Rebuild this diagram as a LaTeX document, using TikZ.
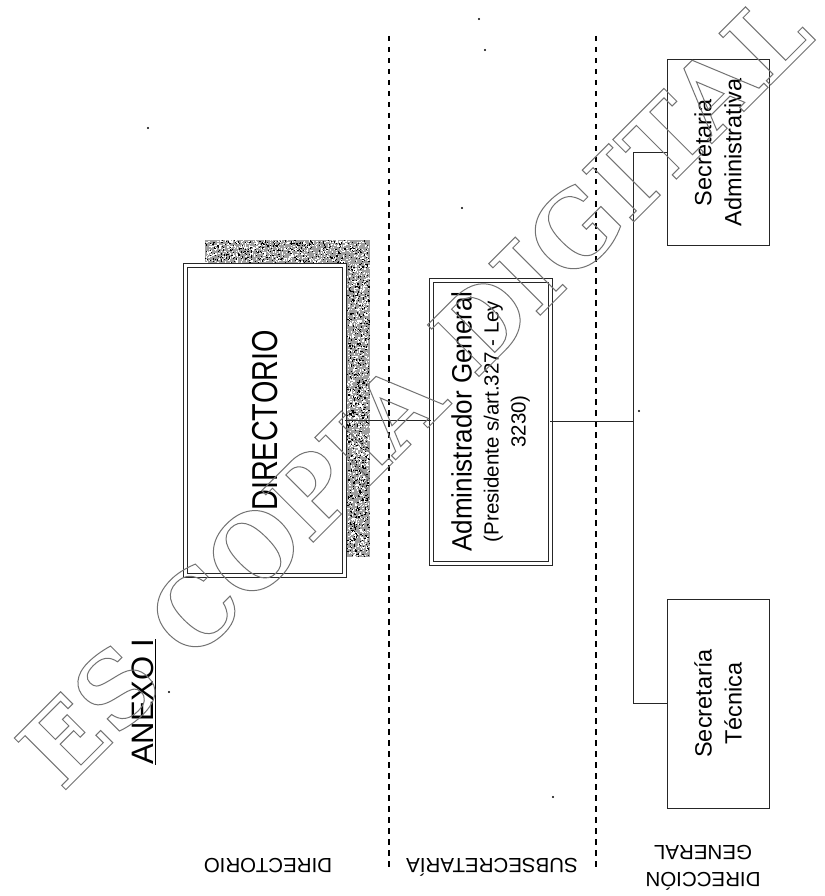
\documentclass[tikz,border=0pt]{standalone}
\usepackage{fontspec}
\setmainfont{Liberation Sans}
\newfontfamily\wmfont{DejaVu Serif}
\usetikzlibrary{calc}
\begin{document}
\begin{tikzpicture}[x=1pt,y=-1pt,
  every node/.style={inner sep=0pt, outer sep=0pt},
  dblbox/.style={draw=black!85, line width=1pt, double=white, double distance=3pt, rotate=90, align=center},
  sbox/.style={draw=black!85, line width=1pt, rotate=90, align=center},
  conn/.style={draw=black!85, line width=1pt},
  divider/.style={draw=black, line width=1.6pt, dash pattern=on 5.5pt off 5.5pt},
  lbl/.style={rotate=180, align=center, font=\fontsize{20.5}{27}\selectfont},
  wm/.style={rotate=45, text=black!55, font=\wmfont\bfseries\fontsize{100}{100}\selectfont},
  shadowfill/.style={fill=black!38},
  speck/.style={fill=black}
]
\useasboundingbox (0,0) rectangle (824,896);
\fill[white] (0,0) rectangle (824,896);

% stippled shadow of the DIRECTORIO box
\fill[shadowfill] (205,240) rectangle (370,263);
\fill[shadowfill] (347,263) rectangle (370,557);
\pgfmathsetseed{7}
\foreach \i in {1,...,450}{%
  \pgfmathsetmacro\rx{205+163.8*rnd}\pgfmathsetmacro\ry{240+21.8*rnd}%
  \fill[black] (\rx,\ry) rectangle ++(1.2,1.2);}
\foreach \i in {1,...,800}{%
  \pgfmathsetmacro\rx{347+21.8*rnd}\pgfmathsetmacro\ry{263+292.8*rnd}%
  \fill[black] (\rx,\ry) rectangle ++(1.2,1.2);}
\foreach \i in {1,...,600}{%
  \pgfmathsetmacro\rx{205+163.8*rnd}\pgfmathsetmacro\ry{240+21.8*rnd}%
  \fill[white] (\rx,\ry) rectangle ++(1.2,1.2);}
\foreach \i in {1,...,1050}{%
  \pgfmathsetmacro\rx{347+21.8*rnd}\pgfmathsetmacro\ry{263+292.8*rnd}%
  \fill[white] (\rx,\ry) rectangle ++(1.2,1.2);}

% dividers
\coordinate (d1a) at (389,36); \coordinate (d1b) at (389,868);
\coordinate (d2a) at (596,36); \coordinate (d2b) at (596,868);
\draw[divider] (d1a) -- (d1b);
\draw[divider] (d2a) -- (d2b);

% boxes
\node[dblbox, minimum width=310pt, minimum height=159pt, font=\fontsize{36}{38}\selectfont] (dir) at (265,420.5) {\scalebox{0.8}[1]{DIRECTORIO}};
\node[dblbox, minimum width=283pt, minimum height=119pt, font=\fontsize{20.5}{27}\selectfont] (adm) at (490.5,421.5)
  {{\fontsize{28}{28}\selectfont\scalebox{0.93}[1]{Administrador General}}\\(Presidente s/art.327 - Ley\\3230)};
\node[sbox, minimum width=185pt, minimum height=102pt, font=\fontsize{23.5}{30}\selectfont] (sa) at (718,152.5) {Secretaria\\Administrativa};
\node[sbox, minimum width=209pt, minimum height=102pt, font=\fontsize{23.5}{30}\selectfont] (st) at (718,703.5) {Secretaría\\Técnica};

% connectors
\coordinate (bus) at (633,421.5);
\draw[conn] (dir.south) -- (dir.south -| adm.north);
\draw[conn] (adm.south) -- (bus);
\draw[conn] (sa.north) -- (sa.north -| bus) -- (st.north -| bus) -- (st.north);

% titles
\node[rotate=90, font=\fontsize{31}{31}\selectfont] (anx) at (144,702) {\underline{ANEXO I}};
\node[lbl] (l1) at (268,866) {DIRECTORIO};
\node[lbl] (l2) at (492,867) {SUBSECRETARÍA};
\node[lbl] (l3) at (703,868) {DIRECCIÓN\\GENERAL};

% scan specks
\foreach \p in {(479,19),(485,50),(169,692),(553,797),(148,128),(462,208),(639,411)}
  \fill[speck] \p circle (1.1);

% watermark
\node[wm] (wmk) at (414,390) {\special{pdf:literal direct 1 Tr 1 w}ES COPIA DIGITAL\special{pdf:literal direct 0 Tr}};
\end{tikzpicture}
\end{document}
